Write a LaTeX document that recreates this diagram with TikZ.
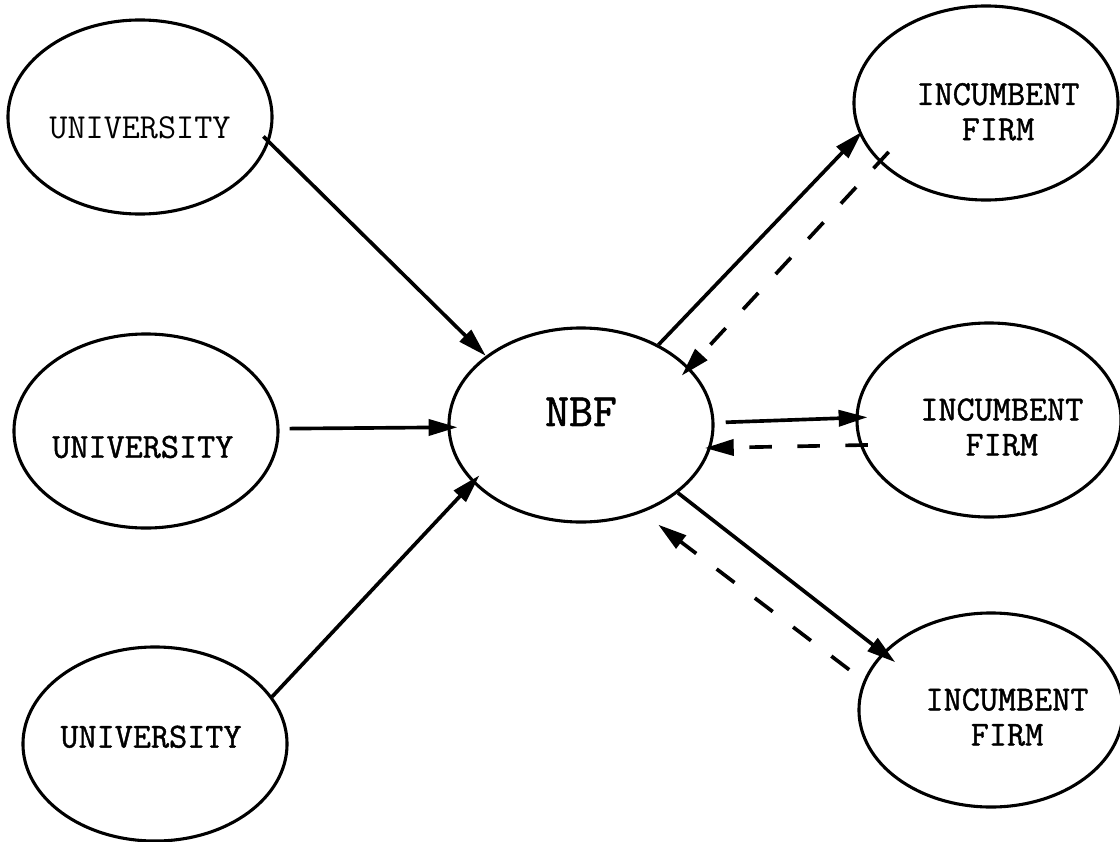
\documentclass[tikz,border=0pt]{standalone}
\usepackage{fontspec}
\newfontfamily\scantt[FakeBold=1.2]{Latin Modern Mono}
\usetikzlibrary{arrows.meta,shapes.geometric}

\begin{document}
\begin{tikzpicture}[x=0.025cm,y=-0.025cm,
            actor/.style = {draw,ellipse,line width=2.2pt,minimum width=6.6cm,minimum height=4.85cm,inner sep=0pt},
            tag/.style = {align=center,font=\scantt\fontsize{25}{25}\selectfont},
            flow/.style = {line width=2.6pt,-{Triangle[length=0.72cm,width=0.4cm]}},
            back/.style = {flow,dash pattern=on 0.56cm off 0.64cm}]
            \useasboundingbox (0,0) rectangle (1120,842);

            \node[actor,label={[tag,font=\ttfamily\fontsize{25}{25}\selectfont,yshift=-0.28cm]center:UNIVERSITY}] (U1) at (140,117) {};
            \node[actor,label={[tag,xshift=-0.08cm,yshift=-0.4cm]center:UNIVERSITY}] (U2) at (146,431) {};
            \node[actor,label={[tag,xshift=-0.1cm,yshift=0.18cm]center:UNIVERSITY}] (U3) at (155,744) {};
            \node[actor,label={[tag,font=\scantt\fontsize{33}{33}\selectfont,yshift=0.33cm]center:NBF}] (NBF) at (581,425) {};
            \node[actor,label={[tag,xshift=0.3cm,yshift=-0.22cm]center:INCUMBENT\\FIRM}] (F1) at (986,103) {};
            \node[actor,label={[tag,xshift=0.32cm,yshift=-0.18cm]center:INCUMBENT\\FIRM}] (F2) at (989,420) {};
            \node[actor,label={[tag,xshift=0.4cm,yshift=-0.18cm]center:INCUMBENT\\FIRM}] (F3) at (991,710) {};

            \draw[flow,shorten <=-0.2cm] (U1.-11) -- (NBF.144);
            \draw[flow,shorten <=0.25cm,shorten >=-0.25cm] (U2.1) -- (NBF.181);
            \draw[flow,shorten >=-0.25cm] (U3.22) -- (NBF.208);

            \draw[flow,shorten >=-0.1cm] (NBF.46) -- (F1.194);
            \draw[back,shorten <=-0.35cm,shorten >=-0.28cm] (F1.209) -- (NBF.28);
            \draw[flow,shorten <=0.28cm,shorten >=-0.3cm] (NBF.1) -- (F2.179);
            \draw[back,shorten <=-0.2cm,shorten >=-0.15cm] (F2.191) -- (NBF.-10);
            \draw[flow,shorten >=-0.4cm] (NBF.-35) -- (F3.152);
            \draw[back,shorten <=0.45cm,shorten >=0.5cm] (F3.167) -- (NBF.-55);
\end{tikzpicture}
\end{document}
